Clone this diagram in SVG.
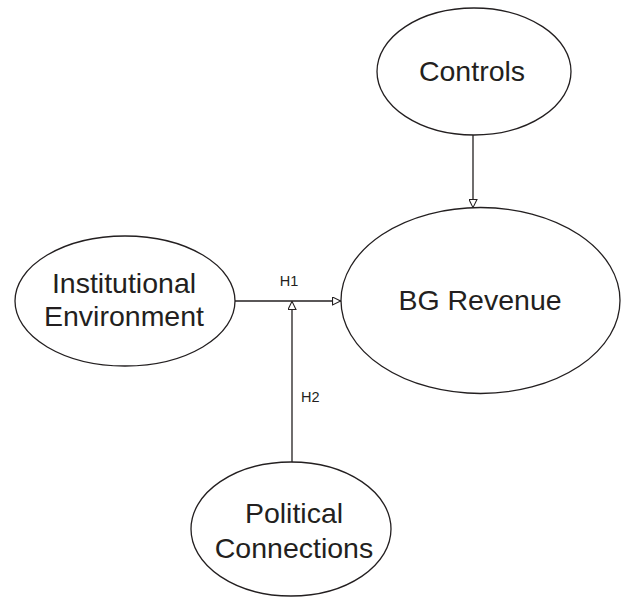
<svg xmlns="http://www.w3.org/2000/svg" width="624" height="597" viewBox="0 0 624 597">
  <style>
    .node ellipse { fill: #ffffff; stroke: #231f20; stroke-width: 1.3; }
    .node text { font-family: "Liberation Sans", Arial, sans-serif; font-size: 28.5px; fill: #231f20; text-anchor: middle; }
    .edge { stroke: #231f20; stroke-width: 1.3; fill: none; }
    .lbl { font-family: "Liberation Sans", Arial, sans-serif; font-size: 14.5px; fill: #231f20; }
  </style>
  <defs>
    <marker id="openArrow" viewBox="0 0 10 10" refX="10" refY="5" markerWidth="10" markerHeight="9" markerUnits="userSpaceOnUse" orient="auto">
      <path d="M0.6,0.6 L9.6,5 L0.6,9.4 Z" fill="#ffffff" stroke="#231f20" stroke-width="1.2"/>
    </marker>
  </defs>
  <rect width="624" height="597" fill="#ffffff"/>

  <g id="connectors">
    <line class="edge" x1="473" y1="135" x2="473" y2="208" marker-end="url(#openArrow)"/>
    <line class="edge" x1="235" y1="301" x2="341" y2="301" marker-end="url(#openArrow)"/>
    <line class="edge" x1="292" y1="463" x2="292" y2="301" marker-end="url(#openArrow)"/>
    <text class="lbl" x="289" y="286" text-anchor="middle">H1</text>
    <text class="lbl" x="301" y="402">H2</text>
  </g>

  <g id="controls" class="node">
    <ellipse cx="474" cy="71.5" rx="97" ry="63.5"/>
    <text x="472" y="81">Controls</text>
  </g>

  <g id="bg-revenue" class="node">
    <ellipse cx="480.5" cy="300.5" rx="139.5" ry="93"/>
    <text x="480" y="310">BG Revenue</text>
  </g>

  <g id="institutional-environment" class="node">
    <ellipse cx="125" cy="301" rx="110" ry="65"/>
    <text x="124" y="293">Institutional</text>
    <text x="124" y="326">Environment</text>
  </g>

  <g id="political-connections" class="node">
    <ellipse cx="291" cy="529" rx="100" ry="67"/>
    <text x="294" y="523">Political</text>
    <text x="294" y="558">Connections</text>
  </g>
</svg>
